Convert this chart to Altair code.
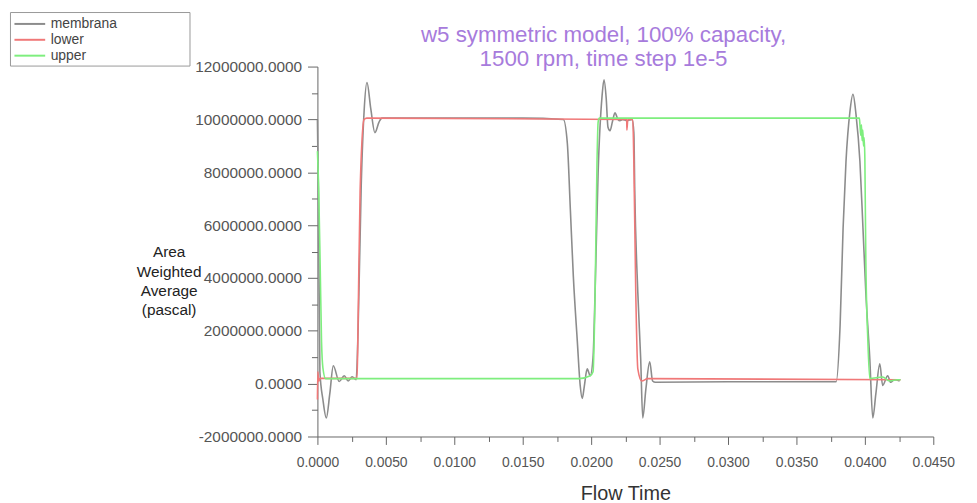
import altair as alt
import pandas as pd

# membrana (grey)
mem_t = [0.0, 0.00007, 0.00018, 0.0004, 0.00065, 0.0009, 0.00116, 0.00159, 0.00196, 0.00225,
         0.00254, 0.00283, 0.00297, 0.0032, 0.00341, 0.00362, 0.0039, 0.0042, 0.0045, 0.00471,
         0.010, 0.015, 0.01797, 0.01826, 0.01848, 0.0187, 0.01899, 0.0192, 0.01935, 0.0195,
         0.01971, 0.01993, 0.02014, 0.02029, 0.02051, 0.0208, 0.02094, 0.0211, 0.02123, 0.02138,
         0.02155, 0.02174, 0.02196, 0.0221, 0.0223, 0.02261, 0.023, 0.02312, 0.02319, 0.02341,
         0.02362, 0.02377, 0.0240, 0.02428, 0.02449, 0.0247, 0.030, 0.0379, 0.03819, 0.03841,
         0.03862, 0.03891, 0.03913, 0.03935, 0.03964, 0.03986, 0.04007, 0.04036, 0.04058, 0.0408,
         0.04109, 0.0413, 0.04167, 0.04188, 0.04217, 0.04254]
mem_v = [10.0, 7.3, 0.45, -0.6, -1.3, -0.4, 0.68, 0.08, 0.3, 0.1,
         0.26, 0.15, 2.0, 7.5, 10.3, 11.4, 10.4, 9.5, 9.9, 10.05,
         10.05, 10.05, 10.0, 9.1, 6.6, 4.05, 1.6, -0.07, -0.56, -0.1,
         0.56, 0.3, 1.0, 3.5, 8.0, 10.9, 11.5, 10.8, 9.7, 9.57,
         9.9, 10.25, 10.0, 9.95, 10.0, 9.95, 10.0, 9.5, 7.2, 3.45,
         0.94, -1.3, -0.2, 0.83, 0.1, 0.05, 0.07, 0.07, 2.2, 5.9,
         8.4, 10.3, 10.95, 10.2, 8.4, 5.9, 3.45, 0.94, -1.3, -0.4,
         0.75, -0.07, 0.3, 0.05, 0.15, 0.1]

# lower (red)
low_t = [0.0, 0.00003, 0.0001, 0.0002, 0.0029, 0.00297, 0.00312, 0.00341, 0.0036, 0.0226,
         0.02261, 0.02268, 0.02304, 0.02312, 0.02326, 0.02341, 0.0237, 0.02413, 0.04261]
low_v = [-0.6, 0.45, 0.1, 0.2, 0.2, 2.3, 7.3, 10.0, 10.05, 10.0,
         9.6, 10.0, 10.0, 8.4, 3.45, 0.56, 0.1, 0.19, 0.15]

# upper (green)
up_t = [0.0, 0.0001, 0.0002, 0.0003, 0.0004, 0.0006, 0.0191, 0.01993, 0.02014, 0.02029,
        0.02043, 0.02051, 0.0206, 0.0396, 0.03964, 0.0397, 0.03975, 0.0398, 0.03985, 0.0399,
        0.03995, 0.04, 0.04007, 0.04022, 0.04036, 0.0413, 0.0418, 0.0424, 0.04261]
up_v = [8.8, 7.2, 4.5, 1.6, 0.6, 0.19, 0.19, 0.3, 0.45, 3.45,
        8.45, 9.9, 10.05, 10.05, 9.8, 9.4, 9.8, 9.2, 9.6, 9.0,
        9.3, 8.5, 4.7, 1.6, 0.19, 0.25, 0.1, 0.15, 0.15]

series = ["membrana", "lower", "upper"]
colors = ["#8c8c8c", "#f07878", "#7eee7e"]
x_ticks = [i * 0.0025 for i in range(19)]
y_ticks = [-2e6, -1e6, 0, 1e6, 2e6, 3e6, 4e6, 5e6, 6e6, 7e6, 8e6, 9e6, 10e6, 11e6, 12e6]

rows = []
for name, ts, vs in [("membrana", mem_t, mem_v), ("lower", low_t, low_v), ("upper", up_t, up_v)]:
    for i, (t, v) in enumerate(zip(ts, vs)):
        rows.append({"series": name, "t": t, "p": v * 1e6, "i": i})
df = pd.DataFrame(rows)

FONT = "Liberation Sans"
PADCH = "\u2800" * 7

chart = alt.Chart(df).mark_line(strokeWidth=1.6, interpolate="monotone").encode(
    x=alt.X("t:Q",
            scale=alt.Scale(domain=[0, 0.045], nice=False),
            axis=alt.Axis(values=x_ticks, labelFlush=False,
                          labelExpr="round(datum.value*400) % 2 == 0 ? format(datum.value, '.4f') : ''",
                          title="Flow Time", titleFontSize=20, titleFontWeight="normal",
                          titleColor="#333", titlePadding=15,
                          tickSize={"condition": {"test": "round(datum.value*400) % 2 == 0", "value": 8}, "value": 5},
                          labelPadding=11, labelFontSize=14, labelColor="#555")),
    y=alt.Y("p:Q",
            scale=alt.Scale(domain=[-2e6, 12e6], nice=False),
            axis=alt.Axis(values=y_ticks,
                          labelExpr="round(datum.value/1e6) % 2 == 0 ? replace(format(datum.value, '.4f'), '\u2212', '-') : ''",
                          tickSize={"condition": {"test": "round(datum.value/1e6) % 2 == 0", "value": 10}, "value": 6},
                          labelPadding=6, labelFontSize=15.5, labelColor="#555",
                          title=["Area", "Weighted", "Average", "(pascal)"],
                          titleAngle=0, titleAlign="center", titleBaseline="top",
                          titleX=-150, titleY=180, titleFontSize=15.5, titleFontWeight="normal",
                          titleColor="#222", titleLineHeight=19.5)),
    color=alt.Color("series:N",
                    scale=alt.Scale(domain=series, range=colors),
                    legend=alt.Legend(title=None, orient="none", legendX=-310, legendY=-55,
                                      symbolType="M-2,0H2", symbolStrokeWidth=2, symbolSize=240,
                                      symbolOffset=8,
                                      labelFontSize=14, labelColor="#444",
                                      labelExpr="datum.label + '" + PADCH + "'",
                                      strokeColor="#999", padding=3, rowPadding=0,
                                      labelOffset=12)),
    detail="series:N",
    order="i:Q",
).properties(
    width=621,
    height=373,
    padding={"left": 312, "top": 57, "right": 36, "bottom": 65},
    autosize=alt.AutoSizeParams(type="none"),
    title=alt.TitleParams(text=["w5 symmetric model, 100% capacity,", "1500 rpm, time step 1e-5"],
                          fontSize=22.5, fontWeight="normal", color="#a77bdc", font=FONT,
                          anchor="middle", dx=-22, dy=62, offset=3, lineHeight=24),
).configure(font=FONT).configure_view(stroke=None).configure_axis(
    grid=False, domainColor="#666", tickColor="#666", labelFont=FONT, titleFont=FONT
)

chart.save("out.html", embed_options={"renderer": "svg", "actions": False})
